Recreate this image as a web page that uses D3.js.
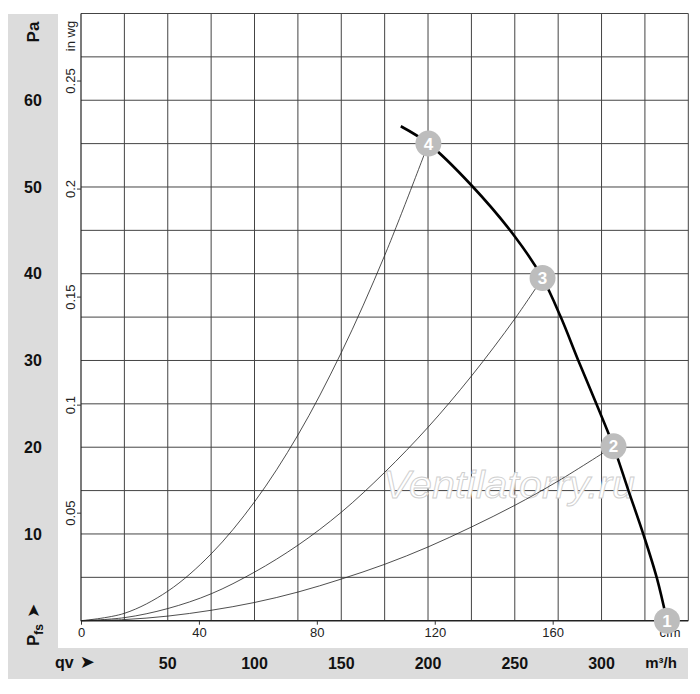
<!DOCTYPE html>
<html>
<head>
<meta charset="utf-8">
<script src="https://cdn.jsdelivr.net/npm/d3@7"></script>
<style>
  body { margin: 0; background: #fff; }
  text { font-family: Arial, "Liberation Sans", sans-serif; }
</style>
</head>
<body>
<div id="chart"></div>
<script>
// values (flow m3/h, pressure Pa)
var fanCurve = [[184.3, 57.0], [200.2, 55.0], [225.0, 50.2], [250.0, 44.3], [266.0, 39.5],
    [276.5, 35.0], [286.6, 30.0], [297.0, 25.0], [306.9, 20.1], [315.5, 15.0],
    [324.2, 9.9], [331.9, 4.9], [337.7, 0]];
var system4 = [[0, 0], [25, 0.85], [50, 3.4], [75, 7.7], [100, 13.7], [125, 21.4],
    [150, 30.9], [175, 42.1], [200.2, 55.0]];
var system3 = [[0, 0], [25, 0.35], [50, 1.4], [75, 3.1], [100, 5.6], [125, 8.7],
    [150, 12.5], [175, 17.1], [200, 22.3], [225, 28.2], [250, 34.8], [266.0, 39.5]];
var system2 = [[0, 0], [25, 0.13], [50, 0.53], [75, 1.2], [100, 2.1], [125, 3.3],
    [150, 4.8], [175, 6.5], [200, 8.5], [225, 10.8], [250, 13.3], [275, 16.1], [306.9, 20.1]];
var points = [
    {n: "1", q: 337.7, p: 0},
    {n: "2", q: 306.9, p: 20.1},
    {n: "3", q: 266.0, p: 39.5},
    {n: "4", q: 200.2, p: 55.0}
];
var paTicks = [10, 20, 30, 40, 50, 60];
var wgTicks = [0.05, 0.1, 0.15, 0.2, 0.25];
var m3hTicks = [50, 100, 150, 200, 250, 300];
var cfmTicks = [0, 40, 80, 120, 160];

var W = 700, H = 694;
var plotL = 81, plotR = 688.3, plotT = 13.5, plotB = 620.7;

var x = d3.scaleLinear().domain([0, 350]).range([plotL, plotR]);
var y = d3.scaleLinear().domain([0, 70]).range([plotB, plotT]);
var xCfm = d3.scaleLinear().domain([0, 350 / 1.69901]).range([plotL, plotR]);
var yWg = d3.scaleLinear().domain([0, 70 / 249.089]).range([plotB, plotT]);

var svg = d3.select("#chart").append("svg")
    .attr("width", W).attr("height", H);

// grey label bands
svg.append("rect").attr("x", 8).attr("y", 14).attr("width", 50).attr("height", 634)
    .style("fill", "#dcdcdc");
svg.append("rect").attr("x", 8).attr("y", 648).attr("width", 680).attr("height", 31)
    .style("fill", "#dcdcdc");

// grid
var g = svg.append("g");
g.selectAll("line.v").data(d3.range(25, 351, 25)).enter().append("line")
    .attr("x1", function(d){ return x(d); }).attr("x2", function(d){ return x(d); })
    .attr("y1", plotT).attr("y2", plotB)
    .style("stroke", "#444").style("stroke-width", 1);
g.selectAll("line.h").data(d3.range(5, 71, 5)).enter().append("line")
    .attr("x1", plotL).attr("x2", plotR)
    .attr("y1", function(d){ return y(d); }).attr("y2", function(d){ return y(d); })
    .style("stroke", "#444").style("stroke-width", 1);
g.append("line").attr("x1", plotL).attr("x2", plotL).attr("y1", plotT).attr("y2", plotB + 0.5)
    .style("stroke", "#222").style("stroke-width", 1.2);
g.append("line").attr("x1", plotL).attr("x2", plotR).attr("y1", plotB).attr("y2", plotB)
    .style("stroke", "#222").style("stroke-width", 1.5);

// in wg axis
var wgAxis = svg.append("g").attr("transform", "translate(" + plotL + ",0)")
    .call(d3.axisLeft(yWg).tickValues(wgTicks).tickSize(4).tickPadding(4)
        .tickFormat(function(d){ return String(d); }));
wgAxis.select(".domain").remove();
wgAxis.selectAll("line").style("stroke", "#333");
wgAxis.selectAll("text")
    .attr("x", null)
    .attr("transform", "translate(-11,0) rotate(-90)")
    .attr("text-anchor", "middle").attr("dy", "0.35em")
    .style("font-size", "13px").style("fill", "#222")
    .style("font-family", "Arial, 'Liberation Sans', sans-serif");
svg.append("text").text("in wg")
    .attr("transform", "translate(70,36) rotate(-90)")
    .attr("text-anchor", "middle").attr("dy", "0.35em")
    .style("font-size", "13px").style("fill", "#222");

// cfm axis
var cfmAxis = svg.append("g").attr("transform", "translate(0," + plotB + ")")
    .call(d3.axisBottom(xCfm).tickValues(cfmTicks).tickSize(4).tickPadding(3));
cfmAxis.select(".domain").remove();
cfmAxis.selectAll("line").style("stroke", "#333");
cfmAxis.selectAll("text").style("font-size", "13px").style("fill", "#222")
    .style("font-family", "Arial, 'Liberation Sans', sans-serif");
svg.append("text").text("cfm").attr("x", 670).attr("y", 637)
    .attr("text-anchor", "middle").style("font-size", "13px").style("fill", "#222");

// Pa labels
svg.selectAll("text.pa").data(paTicks).enter().append("text")
    .attr("x", 33).attr("y", function(d){ return y(d); }).attr("dy", "0.36em")
    .attr("text-anchor", "middle")
    .style("font-size", "16px").style("font-weight", "bold").style("fill", "#111")
    .text(function(d){ return d; });
svg.append("text").text("Pa")
    .attr("transform", "translate(33,32) rotate(-90)")
    .attr("text-anchor", "middle").attr("dy", "0.36em")
    .style("font-size", "17px").style("font-weight", "bold").style("fill", "#111");
var pfs = svg.append("text")
    .attr("transform", "translate(39,646) rotate(-90)")
    .style("font-weight", "bold").style("fill", "#111");
pfs.append("tspan").text("P").style("font-size", "17px");
pfs.append("tspan").text("fs").attr("dy", 4).style("font-size", "12px");
pfs.append("tspan").text("\u27A4").attr("dx", 6).attr("dy", -4)
    .style("font-size", "17px").style("font-family", "DejaVu Sans");

// m3/h labels
svg.selectAll("text.m3").data(m3hTicks).enter().append("text")
    .attr("x", function(d){ return x(d); }).attr("y", 669)
    .attr("text-anchor", "middle")
    .style("font-size", "16px").style("font-weight", "bold").style("fill", "#111")
    .text(function(d){ return d; });
svg.append("text").text("m\u00B3/h").attr("x", 661).attr("y", 668)
    .attr("text-anchor", "middle")
    .style("font-size", "15px").style("font-weight", "bold").style("fill", "#111");
var qv = svg.append("text").attr("x", 55).attr("y", 668)
    .style("font-weight", "bold").style("fill", "#111");
qv.append("tspan").text("qv").style("font-size", "16px");
qv.append("tspan").text("\u27A4").attr("dx", 6)
    .style("font-size", "18px").style("font-family", "DejaVu Sans");

// watermark
svg.append("text").text("Ventilatorry.ru")
    .attr("x", 383).attr("y", 498)
    .attr("textLength", 252).attr("lengthAdjust", "spacingAndGlyphs")
    .style("font-size", "39px").style("font-style", "italic")
    .style("fill", "#fff").style("stroke", "#cfcfcf").style("stroke-width", 0.9);

// curves
var line = d3.line()
    .x(function(d){ return x(d[0]); })
    .y(function(d){ return y(d[1]); })
    .curve(d3.curveCatmullRom.alpha(0.5));

[system2, system3, system4].forEach(function(s){
    svg.append("path").datum(s).attr("d", line)
        .style("fill", "none").style("stroke", "#222").style("stroke-width", 0.8);
});
svg.append("path").datum(fanCurve).attr("d", line)
    .style("fill", "none").style("stroke", "#000").style("stroke-width", 2.6);

// numbered markers
var mk = svg.selectAll("g.mk").data(points).enter().append("g")
    .attr("transform", function(d){ return "translate(" + x(d.q) + "," + y(d.p) + ")"; });
mk.append("circle").attr("r", 13).style("fill", "#bdbdbd");
mk.append("text").text(function(d){ return d.n; })
    .attr("text-anchor", "middle").attr("dy", "0.36em")
    .style("font-size", "17px").style("font-weight", "bold").style("fill", "#fff");
</script>
</body>
</html>
